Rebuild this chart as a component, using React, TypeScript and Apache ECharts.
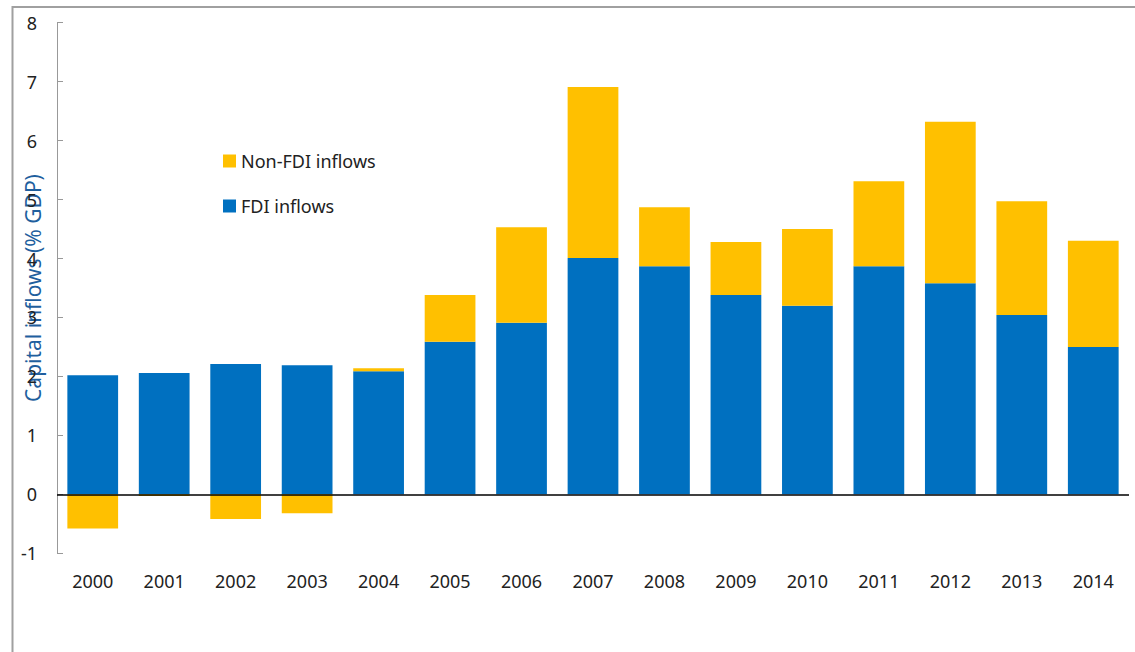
import React, { useEffect, useRef } from "react";
import * as echarts from "echarts";

const years = ["2000", "2001", "2002", "2003", "2004", "2005", "2006", "2007", "2008", "2009", "2010", "2011", "2012", "2013", "2014"];
const fdiInflows = [2.02, 2.06, 2.21, 2.19, 2.09, 2.59, 2.91, 4.01, 3.87, 3.38, 3.2, 3.87, 3.58, 3.04, 2.5];
const nonFdiInflows = [-0.58, -0.03, -0.42, -0.32, 0.05, 0.79, 1.62, 2.9, 1.0, 0.9, 1.3, 1.44, 2.74, 1.93, 1.8];

const FONT = "Noto Sans";

export default function App() {
  const ref = useRef<HTMLDivElement>(null);
  useEffect(() => {
    if (!ref.current) return;
    const chart = echarts.init(ref.current, null, { renderer: "svg" });
    chart.setOption({
      animation: false,
      textStyle: { fontFamily: FONT },
      grid: { left: 57, right: 6, top: 22.7, bottom: 98.7, containLabel: false, outerBoundsMode: "none" },
      legend: {
        orient: "vertical",
        left: 218,
        top: 147,
        itemWidth: 13,
        itemHeight: 13,
        itemGap: 27,
        icon: "rect",
        textStyle: { fontSize: 18, color: "#222", fontFamily: FONT },
        data: ["Non-FDI inflows", "FDI inflows"],
      },
      xAxis: {
        type: "category",
        data: years,
        axisLine: { show: false, onZero: false },
        axisTick: { show: false },
        axisLabel: { fontSize: 18, color: "#222", margin: 19, fontFamily: FONT },
      },
      yAxis: {
        type: "value",
        min: -1,
        max: 8,
        interval: 1,
        splitLine: { show: false },
        axisLine: { show: true, lineStyle: { color: "#999", width: 1 } },
        axisTick: { show: true, inside: true, length: 6, lineStyle: { color: "#999" } },
        axisLabel: { fontSize: 18, color: "#222", margin: 20, fontFamily: FONT },
        name: "Capital inflows (% GDP)",
        nameLocation: "middle",
        nameGap: 14,
        nameMoveOverlap: false,
        nameTextStyle: { fontSize: 21, color: "#1F5F9E", fontFamily: FONT },
      },
      series: [
        {
          name: "FDI inflows",
          type: "bar",
          stack: "total",
          data: fdiInflows,
          barCategoryGap: "29%",
          itemStyle: { color: "#0070C0" },
          markLine: {
            silent: true,
            symbol: "none",
            label: { show: false },
            lineStyle: { color: "#000", width: 1.5, type: "solid" },
            data: [{ yAxis: 0 }],
          },
        },
        {
          name: "Non-FDI inflows",
          type: "bar",
          stack: "total",
          data: nonFdiInflows,
          itemStyle: { color: "#FFC000" },
        },
      ],
      graphic: [
        {
          type: "rect",
          shape: { x: 12.5, y: 7, width: 1200, height: 700 },
          style: { fill: "none", stroke: "#a0a0a0", lineWidth: 2 },
          silent: true,
        },
      ],
    });
    return () => chart.dispose();
  }, []);
  return (
    <div
      ref={ref}
      style={{ position: "absolute", left: 0, top: 0, width: 1135, height: 652, background: "#fff" }}
    />
  );
}
